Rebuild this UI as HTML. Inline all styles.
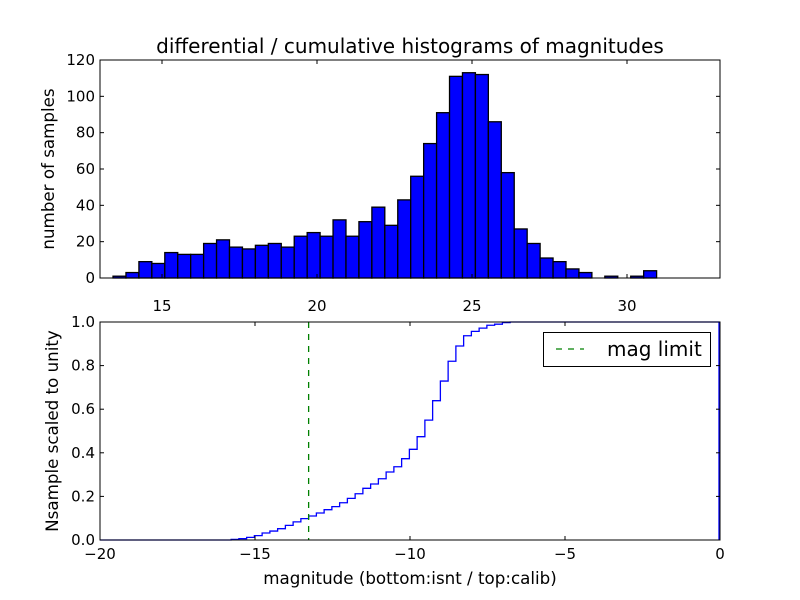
<!DOCTYPE html>
<html><head><meta charset="utf-8"><style>
body{margin:0;background:#fff}
svg{display:block;font-family:"DejaVu Sans","Liberation Sans",sans-serif}
</style></head><body>
<svg id="c" width="800" height="600" xmlns="http://www.w3.org/2000/svg">
<rect width="800" height="600" fill="#fff"/>
<text x="410" y="53" font-size="20" text-anchor="middle">differential / cumulative histograms of magnitudes</text>
<text transform="translate(54,169) rotate(-90)" font-size="16.7" text-anchor="middle">number of samples</text>
<text transform="translate(58,431) rotate(-90)" font-size="16.7" text-anchor="middle">Nsample scaled to unity</text>
<text x="410" y="584" font-size="16.7" text-anchor="middle">magnitude (bottom:isnt / top:calib)</text>
<g id="top"></g><g id="bot"></g>
</svg>
<script>
const histCounts=[1,3,9,8,14,13,13,19,21,17,16,18,19,17,23,25,23,32,23,31,39,29,43,56,74,91,111,113,112,86,58,27,19,11,9,5,3,0,1,0,1,4];
const histStart=13.42;
const histBinWidth=0.4175;
const topXTicks=[15,20,25,30];
const topYTicks=[0,20,40,60,80,100,120];
const cumValues=[0.003,0.006,0.012,0.02,0.032,0.041,0.052,0.067,0.083,0.098,0.11,0.124,0.139,0.153,0.171,0.191,0.212,0.237,0.257,0.281,0.312,0.336,0.373,0.416,0.474,0.55,0.639,0.729,0.82,0.89,0.937,0.957,0.972,0.985,0.99,0.997,1.0];
const cumStart=-15.77;
const cumBinWidth=0.25;
const botXTicks=[-20,-15,-10,-5,0];
const botYTicks=[0.0,0.2,0.4,0.6,0.8,1.0];
const magLimit=-13.27;

const NS="http://www.w3.org/2000/svg";
function mk(p,t,a){const e=document.createElementNS(NS,t);for(const k in a)e.setAttribute(k,a[k]);p.appendChild(e);return e;}
const L=100,R=720;
const T=document.getElementById('top');
const tx=v=>L+(v-13)*(R-L)/20, ty=v=>278-v*(278-60)/120;
histCounts.forEach((c,i)=>{const x0=tx(histStart+i*histBinWidth),x1=tx(histStart+(i+1)*histBinWidth);
 if(c<=0)return;
 const r=mk(T,'rect',{x:x0,y:ty(c),width:x1-x0,height:ty(0)-ty(c),fill:'#0000ff',stroke:'#000','stroke-width':1.3});
 
 });
topXTicks.forEach(v=>{const x=tx(v);mk(T,'line',{x1:x,x2:x,y1:278,y2:274,stroke:'#000'});mk(T,'line',{x1:x,x2:x,y1:60,y2:64,stroke:'#000'});
 const t=mk(T,'text',{x:x,y:311,'font-size':15,'text-anchor':'middle'});t.textContent=v;
 
 });
topYTicks.forEach(v=>{const y=ty(v);mk(T,'line',{x1:L,x2:L+4,y1:y,y2:y,stroke:'#000'});mk(T,'line',{x1:R,x2:R-4,y1:y,y2:y,stroke:'#000'});
 const t=mk(T,'text',{x:95,y:y+5,'font-size':15,'text-anchor':'end'});t.textContent=v;
 
 });
const f1=mk(T,'rect',{x:L,y:60,width:R-L,height:218,fill:'none',stroke:'#000','stroke-width':1});


const B=document.getElementById('bot');
const bx=v=>L+(v+20)*(R-L)/20, by=v=>540-v*218;
let d='M'+bx(-20)+','+by(0)+' L'+bx(cumStart)+','+by(0);
cumValues.forEach((v,i)=>{d+=' L'+bx(cumStart+i*cumBinWidth)+','+by(v)+' L'+bx(cumStart+(i+1)*cumBinWidth)+','+by(v);});
d+=' L'+(bx(0)-1)+','+by(1)+' L'+(bx(0)-1)+','+by(0);
const p=mk(B,'path',{d:d,fill:'none',stroke:'#0000ff','stroke-width':1.3});


const ml=mk(B,'line',{x1:bx(magLimit),x2:bx(magLimit),y1:322,y2:540,stroke:'#008000','stroke-width':1.3,'stroke-dasharray':'6,6'});


botXTicks.forEach(v=>{const x=bx(v);mk(B,'line',{x1:x,x2:x,y1:540,y2:536,stroke:'#000'});mk(B,'line',{x1:x,x2:x,y1:322,y2:326,stroke:'#000'});
 const t=mk(B,'text',{x:x,y:559,'font-size':15,'text-anchor':'middle'});t.textContent=(v<0?'\u2212'+(-v):v);
 
 });
botYTicks.forEach(v=>{const y=by(v);mk(B,'line',{x1:L,x2:L+4,y1:y,y2:y,stroke:'#000'});mk(B,'line',{x1:R,x2:R-4,y1:y,y2:y,stroke:'#000'});
 const t=mk(B,'text',{x:95,y:y+5,'font-size':15,'text-anchor':'end'});t.textContent=v.toFixed(1);
 
 });
const f2=mk(B,'rect',{x:L,y:322,width:R-L,height:218,fill:'none',stroke:'#000','stroke-width':1});


const lg=mk(B,'g',{});


mk(lg,'rect',{x:543.5,y:332.5,width:167,height:34,fill:'#fff',stroke:'#000'});
mk(lg,'line',{x1:556,x2:584,y1:349,y2:349,stroke:'#008000','stroke-width':1.3,'stroke-dasharray':'6,6'});
const lt=mk(lg,'text',{x:607,y:356,'font-size':20});lt.textContent='mag limit';


</script>
</body></html>
